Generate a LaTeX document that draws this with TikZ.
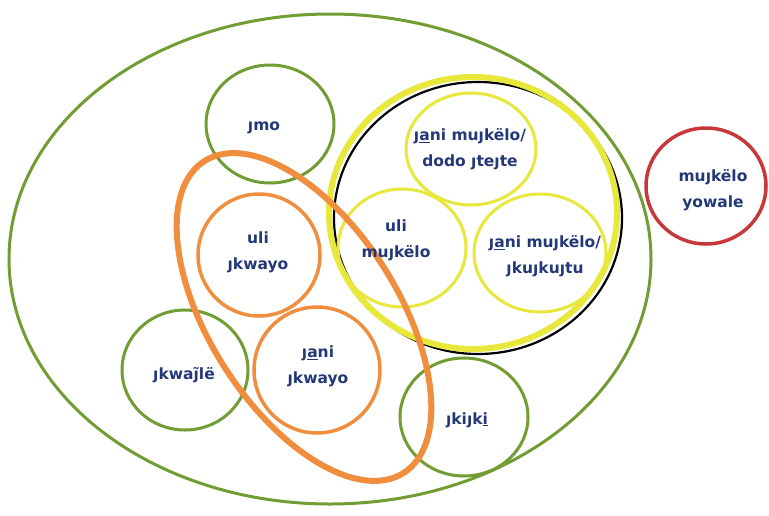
\documentclass[tikz,border=0pt]{standalone}
\usepackage{fontspec}
\setmainfont{DejaVu Sans}
\definecolor{leaf}{RGB}{114,156,52}
\definecolor{tang}{RGB}{240,142,62}
\definecolor{lemon}{RGB}{232,232,60}
\definecolor{brick}{RGB}{200,56,58}
\definecolor{navy}{RGB}{34,56,120}
\tikzset{
  lbl/.style={text=navy, font=\bfseries\fontsize{15.5}{26}\selectfont, align=center, inner sep=0pt},
  greenring/.style={draw=leaf, line width=3pt},
  orangering/.style={draw=tang, line width=3.5pt},
  yellowring/.style={draw=lemon, line width=3pt},
}
\begin{document}
\begin{tikzpicture}[x=1pt,y=-1pt]
\useasboundingbox (0,0) rectangle (769,515);
% outer set
\draw[greenring] (330,259) ellipse [x radius=321pt, y radius=245pt];
% green sets
\draw[greenring] (270,124) ellipse [x radius=64pt, y radius=59pt];
\draw[greenring] (185,370) ellipse [x radius=63pt, y radius=60pt];
\draw[greenring] (464,417) ellipse [x radius=64pt, y radius=59pt];
% black and yellow double boundary
\draw[black, line width=2.2pt] (478,218) ellipse [x radius=144pt, y radius=136pt];
\draw[lemon, line width=6pt] (473,213) ellipse [x radius=144pt, y radius=136pt];
% yellow sets
\draw[yellowring] (471,149) ellipse [x radius=65pt, y radius=56pt];
\draw[yellowring] (402,248) ellipse [x radius=64pt, y radius=59pt];
\draw[yellowring] (540,253) ellipse [x radius=66pt, y radius=59pt];
% orange sets
\draw[orangering] (259,255) ellipse [x radius=61pt, y radius=61pt];
\draw[orangering] (317,370) ellipse [x radius=63pt, y radius=63pt];
\draw[tang, line width=6pt, rotate around={-57.4:(304,317)}] (304,317) ellipse [x radius=185pt, y radius=94pt];
% red set
\draw[brick, line width=3.5pt] (706,186) ellipse [x radius=60pt, y radius=58pt];
% labels
\node[lbl] (imo) at (264,128) {ȷmo};
\node[lbl] (dodo) at (470,149) {ȷ\underline{a}ni muȷkëlo/\\dodo ȷteȷte};
\node[lbl] (ulim) at (396,240) {uli\\muȷkëlo};
\node[lbl] (ikuj) at (545,256) {ȷ\underline{a}ni muȷkëlo/\\ȷkuȷkuȷtu};
\node[lbl] (ulik) at (258,252) {uli\\ȷkwayo};
\node[lbl] (janik) at (318,366) {ȷ\underline{a}ni\\ȷkwayo};
\node[lbl] (ikwa) at (184,375) {ȷkwaȷ̃lë};
\node[lbl] (ikiji) at (467,420) {ȷkiȷk\underline{i}};
\node[lbl] (yow) at (713,190) {muȷkëlo\\yowale};
\end{tikzpicture}
\end{document}
